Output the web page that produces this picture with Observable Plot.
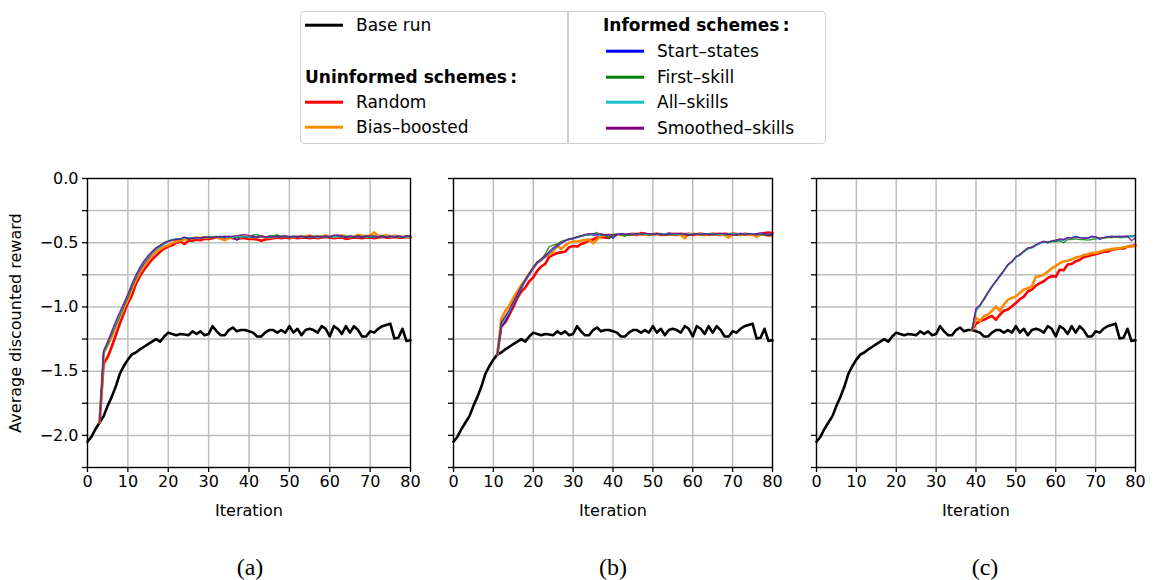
<!DOCTYPE html>
<html>
<head>
<meta charset="utf-8">
<script src="https://cdn.jsdelivr.net/npm/d3@7"></script>
<script src="https://cdn.jsdelivr.net/npm/@observablehq/plot@0.6"></script>
<style>
  html, body { margin: 0; padding: 0; background: #fff; }
  #root { position: relative; width: 1154px; height: 580px; overflow: hidden; font-family: "DejaVu Sans", sans-serif; color: #000; }
  .abs { position: absolute; }
  .panel { position: absolute; top: 160px; }
  .leg-box { position: absolute; left: 300px; top: 11px; width: 526px; height: 133px; border: 1.5px solid #d0d0d0; border-radius: 4px; box-sizing: border-box; }
  .leg-div { position: absolute; left: 567px; top: 12px; width: 1.5px; height: 131px; background: #d0d0d0; }
  .leg-text { position: absolute; font-size: 17px; line-height: 20px; transform: translateY(-50%); white-space: nowrap; }
  .leg-line { position: absolute; height: 2.6px; transform: translateY(-50%); }
  .cap { position: absolute; top: 552px; font-family: "Liberation Serif", serif; font-size: 24px; line-height: 30px; transform: translateX(-50%); }
</style>
</head>
<body>
<div id="root"></div>
<script>
// ---------------- data ----------------
const xTicks = [0, 10, 20, 30, 40, 50, 60, 70, 80];
const yTicks = [-2.25, -2.0, -1.75, -1.5, -1.25, -1.0, -0.75, -0.5, -0.25, 0];
const captions = ["(a)", "(b)", "(c)"];
const seriesNames = ["Random", "Bias–boosted", "Start–states", "First–skill", "All–skills", "Smoothed–skills"];
const seriesColors = ["#ff0000", "#ff8c00", "#0000ff", "#008000", "#17becf", "#800080"];

// Base run, iterations 0..80 (same in all panels)
const baseRun = [
  -2.05,-2.01,-1.95,-1.90,-1.85,-1.77,-1.70,-1.62,-1.52,-1.46,
  -1.41,-1.37,-1.355,-1.33,-1.31,-1.29,-1.27,-1.25,-1.27,-1.23,
  -1.20,-1.21,-1.22,-1.21,-1.215,-1.22,-1.19,-1.21,-1.19,-1.22,
  -1.21,-1.15,-1.19,-1.22,-1.22,-1.18,-1.16,-1.19,-1.18,-1.18,
  -1.19,-1.20,-1.23,-1.23,-1.20,-1.18,-1.18,-1.20,-1.18,-1.20,
  -1.15,-1.20,-1.17,-1.22,-1.18,-1.17,-1.18,-1.20,-1.15,-1.17,
  -1.23,-1.15,-1.17,-1.21,-1.15,-1.20,-1.15,-1.18,-1.23,-1.23,
  -1.19,-1.20,-1.17,-1.15,-1.14,-1.13,-1.245,-1.24,-1.17,-1.265,
  -1.26
];

// Panel (a): schemes start at iteration 3
const startA = 3;
const randomA = [
  -1.90,-1.44,-1.39,-1.31,-1.22,-1.13,-1.05,-0.97,-0.91,-0.82,
  -0.76,-0.71,-0.67,-0.63,-0.60,-0.57,-0.545,-0.53,-0.52,-0.50,
  -0.49,-0.51,-0.485,-0.485,-0.475,-0.48,-0.47,-0.47,
  -0.465,-0.46,-0.465,-0.46,-0.46,-0.465,-0.47,-0.465,-0.465,-0.47,
  -0.47,-0.475,-0.485,-0.475,-0.47,-0.465,-0.46,-0.465,-0.46,-0.465,
  -0.46,-0.465,-0.46,-0.46,-0.465,-0.46,-0.465,-0.46,-0.455,-0.46,
  -0.465,-0.46,-0.46,-0.47,-0.465,-0.46,-0.46,-0.465,-0.46,-0.46,
  -0.465,-0.46,-0.455,-0.46,-0.46,-0.455,-0.46,-0.46,-0.455,-0.46
];
const biasA = [
  -1.90,-1.36,-1.30,-1.23,-1.15,-1.08,-1.01,-0.94,-0.86,-0.79,
  -0.73,-0.68,-0.64,-0.60,-0.57,-0.55,-0.53,-0.52,-0.50,-0.49,
  -0.48,-0.475,
  -0.47,-0.465,-0.46,-0.465,-0.46,-0.46,-0.455,-0.46,-0.47,-0.48,
  -0.465,-0.455,-0.46,-0.455,-0.45,-0.455,-0.46,-0.455,-0.45,-0.455,
  -0.46,-0.455,-0.45,-0.455,-0.45,-0.455,-0.46,-0.45,-0.455,-0.45,
  -0.445,-0.45,-0.455,-0.45,-0.445,-0.45,-0.455,-0.45,-0.445,-0.45,
  -0.455,-0.45,-0.44,-0.445,-0.45,-0.445,-0.42,-0.445,-0.45,-0.44,
  -0.455,-0.445,-0.45,-0.455,-0.45,-0.455
];
const startStatesA = [
  -1.90,-1.35,-1.28,-1.21,-1.13,-1.06,-0.99,-0.92,-0.84,-0.77,
  -0.71,-0.66,-0.62,-0.58,-0.55,-0.53,-0.51,-0.49,-0.48,-0.475,
  -0.47,-0.46,-0.47,-0.465,-0.46,-0.465,-0.46,-0.455,-0.46,-0.455,
  -0.45,-0.46,-0.45,-0.455,-0.48,-0.45,-0.455,-0.45,-0.46,-0.455,
  -0.45,-0.455,-0.46,-0.45,-0.455,-0.45,-0.45,-0.455,-0.45,-0.455,
  -0.45,-0.46,-0.45,-0.455,-0.45,-0.455,-0.45,-0.455,-0.45,-0.44,
  -0.45,-0.455,-0.45,-0.455,-0.45,-0.455,-0.45,-0.455,-0.45,-0.455,
  -0.45,-0.455,-0.45,-0.455,-0.45,-0.455,-0.45,-0.45
];
const firstSkillA = [
  -1.90,-1.36,-1.29,-1.21,-1.14,-1.07,-0.99,-0.92,-0.84,-0.76,
  -0.70,-0.65,-0.61,-0.57,-0.54,-0.52,-0.50,-0.485,-0.475,-0.47,
  -0.47,-0.465,-0.46,-0.47,-0.46,-0.46,-0.455,-0.46,-0.455,-0.45,
  -0.46,-0.455,-0.45,-0.46,-0.455,-0.45,-0.46,-0.45,-0.44,-0.435,
  -0.45,-0.455,-0.45,-0.445,-0.44,-0.45,-0.455,-0.45,-0.46,-0.455,
  -0.45,-0.455,-0.46,-0.45,-0.455,-0.45,-0.46,-0.455,-0.45,-0.45,
  -0.455,-0.45,-0.46,-0.455,-0.45,-0.455,-0.45,-0.46,-0.45,-0.455,
  -0.45,-0.455,-0.45,-0.46,-0.45,-0.455,-0.45,-0.455
];
const allSkillsA = [
  -1.90,-1.36,-1.28,-1.20,-1.13,-1.06,-0.98,-0.91,-0.83,-0.76,
  -0.70,-0.65,-0.61,-0.58,-0.55,-0.53,-0.51,-0.49,-0.48,-0.47,
  -0.47,-0.465,-0.46,-0.46,-0.465,-0.46,-0.455,-0.46,-0.455,-0.46,
  -0.455,-0.45,-0.455,-0.46,-0.45,-0.455,-0.45,-0.455,-0.45,-0.455,
  -0.45,-0.455,-0.46,-0.45,-0.455,-0.45,-0.455,-0.45,-0.455,-0.45,
  -0.455,-0.45,-0.455,-0.45,-0.46,-0.45,-0.455,-0.45,-0.455,-0.45,
  -0.455,-0.45,-0.455,-0.45,-0.455,-0.45,-0.46,-0.45,-0.455,-0.45,
  -0.455,-0.45,-0.455,-0.45,-0.455,-0.45,-0.455,-0.45
];
const smoothedA = [
  -1.90,-1.34,-1.27,-1.19,-1.11,-1.04,-0.97,-0.90,-0.82,-0.75,
  -0.69,-0.64,-0.60,-0.57,-0.54,-0.52,-0.50,-0.49,-0.48,-0.475,
  -0.47,-0.455,-0.47,-0.465,-0.46,-0.46,-0.455,-0.46,-0.46,-0.455,
  -0.455,-0.45,-0.455,-0.45,-0.445,-0.44,-0.435,-0.445,-0.45,-0.455,
  -0.45,-0.455,-0.45,-0.455,-0.45,-0.455,-0.45,-0.455,-0.45,-0.455,
  -0.45,-0.455,-0.45,-0.455,-0.45,-0.455,-0.45,-0.455,-0.44,-0.445,
  -0.45,-0.455,-0.45,-0.455,-0.45,-0.455,-0.45,-0.445,-0.45,-0.455,
  -0.45,-0.455,-0.45,-0.455,-0.45,-0.455,-0.45,-0.45
];

// Panel (b): schemes start at iteration 11
const startB = 11;
const randomB = [
  -1.37,-1.15,-1.12,-1.06,-1.00,-0.93,-0.88,-0.85,-0.80,-0.77,
  -0.72,-0.685,-0.665,-0.61,-0.595,-0.58,-0.575,-0.57,-0.535,-0.525,
  -0.53,-0.51,-0.50,-0.48,-0.475,-0.46,-0.455,-0.46,-0.46,-0.44,
  -0.44,-0.435,-0.44,-0.435,-0.43,-0.44,-0.425,-0.43,-0.44,-0.435,
  -0.43,-0.44,-0.435,-0.43,-0.435,-0.44,-0.43,-0.435,-0.43,-0.44,
  -0.435,-0.43,-0.44,-0.435,-0.43,-0.435,-0.44,-0.43,-0.435,-0.43,
  -0.435,-0.44,-0.43,-0.435,-0.44,-0.435,-0.43,-0.425,-0.42,-0.425
];
const biasB = [
  -1.37,-1.09,-1.03,-0.99,-0.93,-0.88,-0.83,-0.79,-0.74,-0.70,
  -0.655,-0.635,-0.61,-0.595,-0.57,-0.52,-0.55,-0.52,-0.50,-0.49,
  -0.49,-0.485,-0.48,-0.475,-0.505,-0.475,-0.45,-0.44,-0.44,
  -0.44,-0.435,-0.44,-0.435,-0.44,-0.435,-0.43,-0.435,-0.44,-0.435,
  -0.435,-0.43,-0.435,-0.44,-0.435,-0.43,-0.435,-0.44,-0.465,-0.435,
  -0.43,-0.435,-0.43,-0.435,-0.44,-0.435,-0.43,-0.435,-0.44,-0.46,
  -0.435,-0.43,-0.44,-0.435,-0.44,-0.435,-0.455,-0.435,-0.44,-0.445,-0.45
];
const startStatesB = [
  -1.37,-1.16,-1.11,-1.05,-0.98,-0.92,-0.86,-0.80,-0.75,-0.70,
  -0.66,-0.635,-0.61,-0.58,-0.55,-0.53,-0.505,-0.485,-0.475,-0.47,
  -0.46,-0.45,-0.44,-0.435,-0.44,
  -0.44,-0.435,-0.44,-0.44,-0.465,-0.435,-0.43,-0.435,-0.44,-0.435,
  -0.43,-0.435,-0.43,-0.435,-0.43,-0.435,-0.43,-0.435,-0.425,-0.43,
  -0.435,-0.43,-0.435,-0.44,-0.435,-0.43,-0.435,-0.43,-0.435,-0.43,
  -0.435,-0.43,-0.435,-0.43,-0.435,-0.44,-0.425,-0.435,-0.43,-0.435,-0.43,-0.425,-0.435,-0.445,-0.435
];
const firstSkillB = [
  -1.37,-1.13,-1.08,-1.03,-0.97,-0.91,-0.85,-0.79,-0.74,-0.69,
  -0.65,-0.63,-0.59,-0.53,-0.52,-0.51,-0.49,-0.48,-0.47,-0.465,
  -0.455,-0.45,-0.445,-0.44,-0.43,
  -0.42,-0.445,-0.44,-0.47,-0.44,-0.435,-0.44,-0.45,-0.435,-0.44,
  -0.43,-0.435,-0.43,-0.44,-0.435,-0.43,-0.44,-0.435,-0.44,-0.435,
  -0.44,-0.43,-0.435,-0.44,-0.435,-0.43,-0.44,-0.435,-0.43,-0.44,
  -0.435,-0.43,-0.44,-0.435,-0.43,-0.44,-0.435,-0.44,-0.43,-0.435,-0.44,-0.435,-0.44,-0.435,-0.44
];
const allSkillsB = [
  -1.37,-1.14,-1.09,-1.04,-0.97,-0.91,-0.85,-0.80,-0.745,-0.70,
  -0.655,-0.63,-0.605,-0.575,-0.55,-0.525,-0.50,-0.485,-0.47,-0.465,
  -0.455,-0.445,-0.44,-0.435,-0.435,
  -0.435,-0.44,-0.435,-0.44,-0.435,-0.43,-0.435,-0.43,-0.435,-0.43,
  -0.435,-0.43,-0.435,-0.43,-0.435,-0.43,-0.435,-0.43,-0.435,-0.43,
  -0.435,-0.43,-0.435,-0.43,-0.435,-0.43,-0.435,-0.43,-0.435,-0.43,
  -0.435,-0.43,-0.435,-0.43,-0.435,-0.43,-0.435,-0.43,-0.435,-0.43,-0.435,-0.43,-0.435,-0.43,-0.435
];
const smoothedB = [
  -1.37,-1.12,-1.07,-1.02,-0.96,-0.90,-0.84,-0.79,-0.74,-0.69,
  -0.65,-0.625,-0.60,-0.57,-0.54,-0.52,-0.50,-0.485,-0.47,-0.465,
  -0.455,-0.445,-0.435,-0.43,-0.43,
  -0.435,-0.43,-0.44,-0.435,-0.44,-0.435,-0.43,-0.435,-0.43,-0.435,
  -0.43,-0.435,-0.425,-0.43,-0.435,-0.43,-0.435,-0.44,-0.435,-0.43,
  -0.425,-0.43,-0.435,-0.44,-0.435,-0.43,-0.435,-0.43,-0.44,-0.435,
  -0.43,-0.425,-0.43,-0.435,-0.44,-0.435,-0.43,-0.435,-0.43,-0.435,-0.43,-0.435,-0.43,-0.435,-0.43
];

// Panel (c): schemes start at iteration 39
const startC = 39;
const randomC = [
  -1.18,-1.13,-1.11,-1.10,-1.085,-1.07,-1.10,-1.06,-1.03,-1.02,
  -0.995,-0.97,-0.94,-0.92,-0.88,-0.865,-0.835,-0.815,-0.80,-0.775,
  -0.76,-0.765,-0.71,-0.715,-0.67,-0.665,-0.645,-0.635,-0.61,-0.605,
  -0.595,-0.59,-0.58,-0.57,-0.57,-0.555,-0.55,-0.545,-0.545,-0.53,
  -0.525,-0.52
];
const biasC = [
  -1.18,-1.085,-1.11,-1.07,-1.06,-1.03,-0.995,-1.03,-0.98,-0.945,
  -0.93,-0.92,-0.89,-0.865,-0.855,-0.84,-0.765,-0.76,-0.75,-0.725,
  -0.70,-0.68,-0.66,-0.645,-0.64,-0.63,-0.615,-0.61,-0.595,-0.59,
  -0.58,-0.58,-0.57,-0.56,-0.555,-0.55,-0.545,-0.545,-0.535,-0.53,
  -0.53,-0.525
];
const startStatesC = [
  -1.18,-1.02,-0.99,-0.94,-0.89,-0.84,-0.80,-0.76,-0.72,-0.67,
  -0.65,-0.61,-0.595,-0.57,-0.545,-0.54,-0.52,-0.505,-0.49,-0.50,
  -0.49,-0.485,-0.475,-0.48,-0.46,-0.46,-0.45,-0.46,-0.46,-0.465,
  -0.45,-0.455,-0.475,-0.46,-0.455,-0.45,-0.455,-0.45,-0.455,-0.45,
  -0.45,-0.45
];
const firstSkillC = [
  -1.18,-1.03,-0.99,-0.945,-0.89,-0.845,-0.80,-0.755,-0.715,-0.675,
  -0.65,-0.61,-0.60,-0.57,-0.55,-0.535,-0.52,-0.505,-0.495,-0.50,
  -0.49,-0.49,-0.485,-0.50,-0.475,-0.475,-0.47,-0.475,-0.475,-0.48,
  -0.475,-0.47,-0.465,-0.465,-0.46,-0.46,-0.455,-0.46,-0.46,-0.455,
  -0.45,-0.44
];
const allSkillsC = [
  -1.18,-1.02,-0.99,-0.94,-0.89,-0.84,-0.80,-0.76,-0.72,-0.675,
  -0.65,-0.61,-0.595,-0.57,-0.545,-0.535,-0.52,-0.505,-0.49,-0.495,
  -0.49,-0.48,-0.475,-0.475,-0.46,-0.46,-0.455,-0.46,-0.46,-0.465,
  -0.455,-0.455,-0.47,-0.46,-0.455,-0.45,-0.455,-0.45,-0.455,-0.45,
  -0.455,-0.45
];
const smoothedC = [
  -1.18,-1.01,-0.985,-0.935,-0.885,-0.84,-0.80,-0.76,-0.715,-0.67,
  -0.645,-0.61,-0.59,-0.565,-0.54,-0.535,-0.515,-0.50,-0.49,-0.495,
  -0.485,-0.48,-0.47,-0.475,-0.46,-0.465,-0.455,-0.46,-0.465,-0.465,
  -0.455,-0.455,-0.465,-0.46,-0.455,-0.455,-0.45,-0.455,-0.45,-0.45,
  -0.485,-0.46
];

// ---------------- drawing ----------------
const root = document.getElementById("root");
const toPts = (arr, start) => arr.map((v, i) => ({x: start + i, y: v}));
const fmt1 = d3.format(".1f");
const isHalf = d => Math.abs(d * 2 - Math.round(d * 2)) < 1e-9;

const panels = [
  {left: 0,   ml: 87, mr: 14, fw: 323, start: startA, labels: true,
   series: [randomA, biasA, startStatesA, firstSkillA, allSkillsA, smoothedA]},
  {left: 430, ml: 23, mr: 14, fw: 319, start: startB, labels: false,
   series: [randomB, biasB, startStatesB, firstSkillB, allSkillsB, smoothedB]},
  {left: 790, ml: 26, mr: 15, fw: 319, start: startC, labels: false,
   series: [randomC, biasC, startStatesC, firstSkillC, allSkillsC, smoothedC]}
];

const H = 357, MT = 18, MB = 50;

panels.forEach((p, k) => {
  const lineMarks = p.series.map((arr, j) => Plot.line(toPts(arr, p.start), {
    x: "x", y: "y", stroke: seriesColors[j],
    strokeWidth: j < 2 ? 2.6 : 1.4,
    strokeOpacity: j < 2 ? 1 : 0.8,
    strokeLinejoin: "round"
  }));
  const chart = Plot.plot({
    width: p.ml + p.fw + p.mr,
    height: H,
    marginTop: MT, marginBottom: MB, marginLeft: p.ml, marginRight: p.mr,
    style: {fontFamily: "DejaVu Sans", fontSize: "16px", color: "black", background: "transparent", overflow: "visible"},
    x: {domain: [0, 80]},
    y: {domain: [-2.25, 0]},
    marks: [
      Plot.gridX(xTicks, {stroke: "#bdbdbd", strokeOpacity: 1, strokeWidth: 1.5}),
      Plot.gridY(yTicks, {stroke: "#bdbdbd", strokeOpacity: 1, strokeWidth: 1.5}),
      Plot.axisX(xTicks, {tickSize: 5, tickPadding: 3, strokeWidth: 1.3, tickFormat: d => String(d),
        label: "Iteration", labelAnchor: "center", labelArrow: "none", labelOffset: 48}),
      Plot.axisY(yTicks, {tickSize: 5, tickPadding: 4, strokeWidth: 1.3,
        tickFormat: d => (p.labels && isHalf(d)) ? fmt1(d) : "",
        label: p.labels ? "Average discounted reward" : null, labelAnchor: "center", labelArrow: "none", labelOffset: 78}),
      Plot.line(toPts(baseRun, 0), {x: "x", y: "y", stroke: "black", strokeWidth: 2.6, strokeLinejoin: "round"}),
      ...lineMarks,
      Plot.frame({stroke: "black", strokeWidth: 1.3})
    ]
  });
  chart.classList.add("panel");
  chart.style.left = p.left + "px";
  root.appendChild(chart);

  const cap = document.createElement("div");
  cap.className = "cap";
  cap.style.left = [250, 613, 985][k] + "px";
  cap.textContent = captions[k];
  root.appendChild(cap);
});

// ---------------- legend ----------------
function add(cls, css, text) {
  const el = document.createElement("div");
  el.className = cls;
  Object.assign(el.style, css);
  if (text != null) el.textContent = text;
  root.appendChild(el);
  return el;
}
add("leg-box", {});
add("leg-div", {});
function entry(xLine, xText, y, color, label) {
  add("leg-line", {left: xLine + "px", top: y + "px", width: "38px", background: color});
  add("leg-text", {left: xText + "px", top: y + "px"}, label);
}
entry(305, 356, 25, "black", "Base run");
add("leg-text", {left: "305px", top: "77px", fontWeight: "bold"}, "Uninformed schemes\u2009:");
entry(305, 356, 102, seriesColors[0], seriesNames[0]);
entry(305, 356, 127, seriesColors[1], seriesNames[1]);
add("leg-text", {left: "603px", top: "25px", fontWeight: "bold"}, "Informed schemes\u2009:");
entry(606, 657, 51, seriesColors[2], seriesNames[2]);
entry(606, 657, 77, seriesColors[3], seriesNames[3]);
entry(606, 657, 102, seriesColors[4], seriesNames[4]);
entry(606, 657, 128, seriesColors[5], seriesNames[5]);
</script>
</body>
</html>
